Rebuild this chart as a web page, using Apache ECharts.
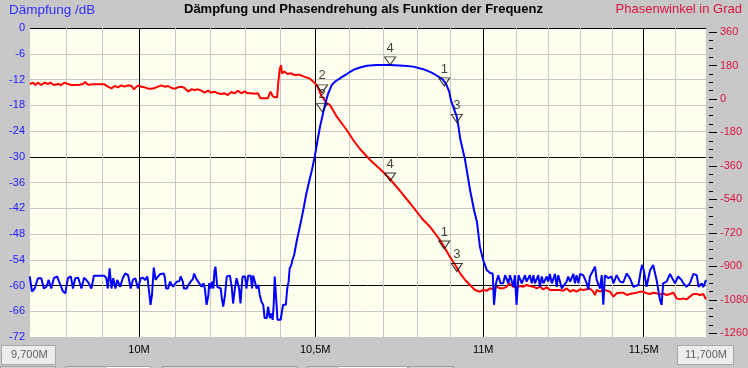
<!DOCTYPE html>
<html>
<head>
<meta charset="utf-8">
<script src="https://cdn.jsdelivr.net/npm/echarts@6/dist/echarts.min.js"></script>
<style>
  html, body { margin: 0; padding: 0; background: #c8c8c8; }
  #chart { width: 748px; height: 368px; }
</style>
</head>
<body>
<div id="chart"></div>
<script>
// Frequenz in MHz, Dämpfung in dB (blaue Kurve)
const freqBlue = [
  9.702, 9.708, 9.715, 9.724, 9.733, 9.740, 9.747, 9.753, 9.760, 9.767,
  9.776, 9.783, 9.792, 9.798, 9.805, 9.813, 9.819, 9.825, 9.833, 9.842,
  9.849, 9.855, 9.862, 9.869, 9.876, 9.892, 9.904, 9.910, 9.914, 9.919,
  9.924, 9.929, 9.935, 9.940, 9.948, 9.955, 9.962, 9.970, 9.977, 9.983,
  9.990, 9.997, 10.005, 10.011, 10.017, 10.023, 10.027, 10.032, 10.036, 10.041,
  10.046, 10.053, 10.058, 10.069, 10.072, 10.075, 10.081, 10.086, 10.091, 10.095,
  10.100, 10.105, 10.112, 10.116, 10.122, 10.125, 10.133, 10.137, 10.144, 10.150,
  10.154, 10.159, 10.165, 10.170, 10.175, 10.180, 10.184, 10.189, 10.194, 10.196,
  10.200, 10.204, 10.208, 10.211, 10.214, 10.219, 10.223, 10.229, 10.232, 10.236,
  10.241, 10.246, 10.255, 10.260, 10.264, 10.269, 10.274, 10.278, 10.281, 10.285,
  10.288, 10.291, 10.298, 10.302, 10.307, 10.314, 10.318, 10.321, 10.326, 10.331,
  10.336, 10.340, 10.345, 10.350, 10.354, 10.360, 10.364, 10.369, 10.374, 10.377,
  10.380, 10.383, 10.388, 10.391, 10.395, 10.400, 10.403, 10.407, 10.415, 10.419,
  10.423, 10.426, 10.431, 10.434, 10.439, 10.447, 10.456, 10.465, 10.473, 10.482,
  10.491, 10.499, 10.507, 10.514, 10.523, 10.532, 10.538, 10.543, 10.548, 10.558,
  10.573, 10.587, 10.602, 10.616, 10.631, 10.651, 10.680, 10.720, 10.760, 10.789,
  10.819, 10.844, 10.864, 10.879, 10.889, 10.897, 10.902, 10.920, 10.925, 10.930,
  10.945, 10.960, 10.972, 10.981, 10.990, 11.000, 11.011, 11.021, 11.029, 11.033,
  11.039, 11.046, 11.053, 11.061, 11.067, 11.077, 11.082, 11.092, 11.097, 11.102,
  11.108, 11.118, 11.128, 11.133, 11.143, 11.149, 11.154, 11.159, 11.169, 11.174,
  11.180, 11.185, 11.195, 11.200, 11.205, 11.211, 11.221, 11.226, 11.231, 11.242,
  11.257, 11.262, 11.268, 11.278, 11.283, 11.288, 11.294, 11.299, 11.309, 11.320,
  11.325, 11.330, 11.346, 11.351, 11.362, 11.367, 11.372, 11.377, 11.388, 11.398,
  11.404, 11.414, 11.425, 11.435, 11.446, 11.456, 11.467, 11.483, 11.491, 11.495,
  11.500, 11.509, 11.520, 11.530, 11.541, 11.552, 11.557, 11.562, 11.573, 11.584,
  11.600, 11.610, 11.621, 11.627, 11.637, 11.648, 11.659, 11.670, 11.676, 11.686,
  11.691, 11.700
];
const daempfung = [
  -57.9, -61.4, -60.7, -58.3, -58.3, -60.7, -60.3, -58.7, -60.7, -58.3,
  -57.9, -59.5, -61.4, -61.8, -58.3, -57.9, -60.7, -58.3, -58.2, -60.7,
  -58.2, -58.7, -59.5, -60.7, -57.7, -57.7, -57.7, -58.3, -60.7, -56.0,
  -60.7, -58.3, -60.7, -58.7, -60.3, -58.3, -57.2, -57.6, -60.7, -58.7,
  -58.3, -60.7, -58.3, -58.2, -58.7, -57.9, -60.7, -64.5, -62.2, -55.8,
  -58.7, -57.9, -57.4, -57.2, -58.2, -60.7, -60.7, -59.1, -59.1, -60.3,
  -60.7, -59.1, -59.0, -57.9, -59.1, -60.7, -60.7, -60.0, -59.1, -58.5,
  -57.2, -58.3, -59.1, -59.5, -60.3, -59.5, -60.7, -64.5, -62.2, -59.5,
  -60.7, -59.1, -60.7, -56.8, -55.6, -60.3, -60.7, -60.7, -63.0, -64.9,
  -62.2, -57.9, -57.7, -60.3, -64.2, -60.7, -58.3, -57.9, -60.7, -64.2,
  -60.7, -57.9, -57.9, -60.7, -57.7, -57.7, -60.7, -57.7, -59.1, -60.7,
  -59.9, -62.2, -63.8, -64.5, -67.6, -67.6, -64.9, -67.6, -66.5, -68.0,
  -64.5, -57.9, -58.3, -68.0, -68.0, -68.0, -68.0, -64.5, -64.5, -60.7,
  -59.1, -56.0, -55.2, -54.0, -52.9, -49.4, -46.1, -42.6, -39.1, -35.9,
  -32.9, -29.8, -26.1, -23.0, -19.8, -16.8, -15.2, -14.3, -13.3, -12.5,
  -11.7, -11.0, -10.2, -9.6, -9.2, -8.8, -8.6, -8.6, -8.8, -9.0,
  -9.6, -10.4, -11.3, -12.1, -13.3, -14.8, -16.8, -20.7, -23.0, -25.7,
  -30.8, -37.7, -42.4, -45.2, -51.0, -54.1, -56.4, -57.1, -57.2, -64.5,
  -59.5, -57.6, -59.5, -59.5, -57.6, -59.5, -57.6, -60.3, -57.6, -64.5,
  -57.6, -59.5, -57.6, -59.1, -57.6, -59.5, -57.6, -59.5, -57.6, -60.3,
  -57.9, -59.5, -57.9, -59.1, -57.3, -59.5, -57.3, -60.3, -57.6, -60.7,
  -59.1, -57.9, -59.1, -57.3, -59.5, -57.6, -59.5, -57.3, -57.6, -59.5,
  -61.0, -57.9, -55.6, -58.7, -60.7, -57.6, -64.5, -57.6, -58.3, -57.9,
  -59.5, -57.6, -59.1, -59.3, -57.2, -58.3, -60.3, -59.9, -56.4, -55.2,
  -56.4, -60.3, -56.5, -55.2, -58.7, -63.4, -64.5, -59.5, -59.1, -57.3,
  -59.5, -57.9, -58.7, -59.5, -60.3, -59.5, -57.3, -57.6, -60.3, -59.5,
  -60.4, -58.7
];

// Frequenz in MHz, Phasenwinkel in Grad (rote Kurve)
const freqRed = [
  9.702, 9.711, 9.717, 9.724, 9.733, 9.742, 9.751, 9.758, 9.767, 9.778,
  9.787, 9.796, 9.805, 9.814, 9.823, 9.837, 9.846, 9.852, 9.860, 9.873,
  9.905, 9.914, 9.924, 9.933, 9.942, 9.951, 9.960, 9.970, 9.979, 9.986,
  9.993, 10.000, 10.006, 10.016, 10.025, 10.034, 10.043, 10.053, 10.062, 10.071,
  10.081, 10.090, 10.099, 10.109, 10.118, 10.127, 10.137, 10.146, 10.155, 10.165,
  10.174, 10.183, 10.193, 10.202, 10.211, 10.221, 10.230, 10.240, 10.249, 10.259,
  10.268, 10.278, 10.287, 10.297, 10.306, 10.316, 10.325, 10.335, 10.342, 10.363,
  10.371, 10.377, 10.384, 10.390, 10.393, 10.397, 10.401, 10.404, 10.411, 10.420,
  10.430, 10.440, 10.454, 10.468, 10.483, 10.498, 10.507, 10.517, 10.534, 10.543,
  10.563, 10.592, 10.611, 10.631, 10.661, 10.690, 10.717, 10.750, 10.779, 10.819,
  10.839, 10.854, 10.869, 10.884, 10.899, 10.915, 10.930, 10.945, 10.960, 10.975,
  10.990, 11.000, 11.011, 11.021, 11.031, 11.041, 11.051, 11.061, 11.072, 11.080,
  11.084, 11.092, 11.102, 11.113, 11.123, 11.133, 11.143, 11.154, 11.164, 11.174,
  11.185, 11.195, 11.205, 11.216, 11.236, 11.247, 11.257, 11.268, 11.278, 11.288,
  11.299, 11.309, 11.320, 11.330, 11.340, 11.346, 11.351, 11.362, 11.372, 11.383,
  11.393, 11.404, 11.414, 11.425, 11.435, 11.446, 11.456, 11.467, 11.478, 11.488,
  11.499, 11.509, 11.520, 11.530, 11.541, 11.552, 11.562, 11.573, 11.584, 11.595,
  11.605, 11.616, 11.627, 11.637, 11.648, 11.659, 11.670, 11.681, 11.691, 11.700
];
const phase = [
  80.4, 87.5, 75.0, 87.5, 75.0, 87.5, 80.4, 87.5, 75.0, 80.4,
  75.0, 87.5, 80.4, 75.0, 75.0, 76.8, 80.4, 91.1, 76.8, 78.6,
  78.6, 66.0, 57.1, 69.6, 62.4, 73.2, 66.0, 73.2, 69.6, 51.7,
  66.0, 73.2, 66.0, 62.4, 55.3, 55.3, 58.9, 66.0, 73.2, 66.0,
  69.6, 58.9, 55.3, 62.4, 66.0, 58.9, 39.1, 51.7, 48.1, 51.7,
  44.5, 33.8, 44.5, 33.8, 39.1, 30.2, 26.6, 30.2, 21.2, 37.3,
  30.2, 44.5, 30.2, 40.9, 30.2, 30.2, 28.4, 30.2, 3.3, 3.3,
  39.1, 15.8, 8.7, 8.7, 83.9, 155.6, 182.5, 137.7, 146.7, 134.1,
  137.7, 128.7, 130.5, 119.8, 110.8, 87.5, 66.0, 21.2, -23.4, -32.5,
  -95.4, -167.0, -220.7, -269.1, -328.3, -376.7, -425.0, -495.0, -559.5, -651.0,
  -687.0, -722.5, -758.5, -803.1, -848.3, -892.9, -937.5, -973.5, -1000.4, -1027.3,
  -1036.4, -1027.3, -1030.9, -1018.3, -1023.7, -1009.4, -1018.3, -1018.3, -1009.4, -991.4,
  -982.5, -1009.4, -1013.0, -1005.8, -1009.4, -1000.4, -1005.8, -1009.4, -1018.3, -1009.4,
  -1023.7, -1013.0, -1027.3, -1027.3, -1027.3, -1030.9, -1018.3, -1036.2, -1027.3, -1036.2,
  -1023.7, -1027.3, -1023.7, -1018.3, -1036.2, -1054.2, -1027.3, -1036.2, -1023.7, -1030.9,
  -1036.2, -1063.1, -1045.2, -1041.6, -1041.6, -1054.2, -1048.8, -1045.2, -1041.6, -1036.2,
  -1036.2, -1045.2, -1048.8, -1041.6, -1045.2, -1050.6, -1045.2, -1054.2, -1048.8, -1041.6,
  -1072.1, -1077.5, -1072.1, -1077.5, -1063.1, -1048.8, -1048.8, -1054.2, -1048.8, -1077.5
];

// Marker 1..4
const markerNames = ['2', '4', '1', '3'];
const markerFreq = [10.52, 10.72, 10.882, 10.92];
const markerDb = [-15.1, -8.6, -13.5, -22.0];
const markerPhase = [-68, -441, -807, -928];

// Achsen
const freqMin = 9.7, freqMax = 11.7;
const freqLabels = [10, 10.5, 11, 11.5];
const freqGrid = [9.7, 9.8, 9.9, 10.1, 10.2, 10.3, 10.4, 10.6, 10.7, 10.8, 10.9,
  11.1, 11.2, 11.3, 11.4, 11.6];
const dbBold = [0, -30, -60];
const phaseLabels = [360, 180, 0, -180, -360, -540, -720, -900, -1080, -1260];
const phaseMinor = [315, 270, 225, 135, 90, 45, -45, -90, -135, -225, -270, -315,
  -405, -450, -495, -585, -630, -675, -765, -810, -855, -945, -990, -1035,
  -1125, -1170, -1215];

const font = 'Liberation Sans, Arial, sans-serif';
const ln = Math.log;

const chart = echarts.init(document.getElementById('chart'));

const xBase = {
  type: 'value', min: ln(freqMin), max: ln(freqMax), position: 'bottom',
  axisLine: { show: false }, axisTick: { show: false }
};

chart.setOption({
  animation: false,
  backgroundColor: '#c8c8c8',
  title: [
    { text: 'Dämpfung /dB', left: 9, top: 3, padding: 0,
      textStyle: { color: '#3030ff', fontSize: 13.5, fontWeight: 'normal', fontFamily: font } },
    { text: 'Dämpfung und Phasendrehung als Funktion der Frequenz', left: 184, top: 3, padding: 0,
      textStyle: { color: '#000', fontSize: 13, fontWeight: 'bold', fontFamily: font } },
    { text: 'Phasenwinkel in Grad', right: 6, top: 3, padding: 0,
      textStyle: { color: '#dc143c', fontSize: 13, fontWeight: 'normal', fontFamily: font } }
  ],
  grid: {
    left: 29, right: 42, top: 28, bottom: 31,
    containLabel: false, outerBoundsMode: 'none',
    show: true, backgroundColor: '#fffff0', borderWidth: 0
  },
  xAxis: [
    Object.assign({}, xBase, {
      axisTick: { show: false, customValues: freqGrid.map(ln) },
      axisLabel: { show: false },
      splitLine: { show: true, lineStyle: { color: '#c8c8c8', width: 1 } }
    }),
    Object.assign({}, xBase, {
      axisTick: { show: false, customValues: freqLabels.map(ln) },
      axisLabel: {
        show: true, customValues: freqLabels.map(ln), margin: 7,
        color: '#000', fontSize: 11, fontFamily: font,
        formatter: v => (Math.round(Math.exp(v) * 10) / 10).toString().replace('.', ',') + 'M'
      },
      splitLine: { show: true, lineStyle: { color: '#000', width: 1 } }
    })
  ],
  yAxis: [
    {
      type: 'value', min: -72, max: 0, interval: 6, position: 'left',
      axisLine: { show: false }, axisTick: { show: false },
      axisLabel: { color: '#2020ff', fontSize: 11, fontFamily: font, margin: 4 },
      splitLine: { show: true, lineStyle: { color: '#c8c8c8', width: 1 } }
    },
    {
      type: 'value', min: -72, max: 0, position: 'left',
      axisLine: { show: false },
      axisTick: { show: false, customValues: dbBold },
      axisLabel: { show: false },
      splitLine: { show: true, lineStyle: { color: '#000', width: 1 } }
    },
    {
      type: 'value', min: -1280, max: 381.5, position: 'right', offset: 3,
      axisLine: { show: false },
      axisTick: { show: true, inside: false, length: 8, customValues: phaseLabels,
        lineStyle: { color: '#000', width: 1 } },
      axisLabel: { customValues: phaseLabels, color: '#dc143c', fontSize: 11,
        fontFamily: font, margin: 11, formatter: v => String(v) },
      splitLine: { show: false }
    },
    {
      type: 'value', min: -1280, max: 381.5, position: 'right', offset: 3,
      axisLine: { show: false },
      axisTick: { show: true, inside: false, length: 4, customValues: phaseMinor,
        lineStyle: { color: '#000', width: 1 } },
      axisLabel: { show: false },
      splitLine: { show: false }
    }
  ],
  series: [
    {
      name: 'Phasenwinkel', type: 'line', xAxisIndex: 1, yAxisIndex: 2,
      showSymbol: false, silent: true,
      lineStyle: { color: '#ff0000', width: 2 },
      data: freqRed.map((f, i) => [ln(f), phase[i]])
    },
    {
      name: 'Dämpfung', type: 'line', xAxisIndex: 1, yAxisIndex: 0,
      showSymbol: false, silent: true,
      lineStyle: { color: '#0000ff', width: 2 },
      data: freqBlue.map((f, i) => [ln(f), daempfung[i]])
    },
    {
      name: 'Marker dB', type: 'scatter', xAxisIndex: 1, yAxisIndex: 0,
      symbol: 'triangle', symbolRotate: 180, symbolSize: [11, 8], symbolOffset: [0, -4],
      itemStyle: { color: 'rgba(255,255,240,0)', borderColor: '#000', borderWidth: 1 },
      label: { show: true, position: 'top', distance: 2, color: '#111', fontSize: 13,
        fontFamily: font, formatter: p => markerNames[p.dataIndex] },
      data: markerFreq.map((f, i) => [ln(f), markerDb[i]]),
      z: 5
    },
    {
      name: 'Marker Phase', type: 'scatter', xAxisIndex: 1, yAxisIndex: 2,
      symbol: 'triangle', symbolRotate: 180, symbolSize: [11, 8], symbolOffset: [0, -4],
      itemStyle: { color: 'rgba(255,255,240,0)', borderColor: '#000', borderWidth: 1 },
      label: { show: true, position: 'top', distance: 2, color: '#111', fontSize: 13,
        fontFamily: font, formatter: p => markerNames[p.dataIndex] },
      data: markerFreq.map((f, i) => [ln(f), markerPhase[i]]),
      z: 5
    }
  ],
  graphic: [
    { type: 'rect', left: 1, top: 345, shape: { width: 54, height: 19 },
      style: { fill: '#ededed', stroke: '#a8a8a8', lineWidth: 1 } },
    { type: 'text', left: 11, top: 349,
      style: { text: '9,700M', fill: '#606060', font: '11px ' + font } },
    { type: 'rect', left: 677, top: 345, shape: { width: 56, height: 19 },
      style: { fill: '#ededed', stroke: '#a8a8a8', lineWidth: 1 } },
    { type: 'text', left: 685, top: 349,
      style: { text: '11,700M', fill: '#606060', font: '11px ' + font } },
    { type: 'rect', left: 0, top: 366, shape: { width: 55, height: 6 },
      style: { fill: '#d4d4d4', stroke: '#a0a0a0', lineWidth: 1 } },
    { type: 'rect', left: 65, top: 366, shape: { width: 40, height: 6 },
      style: { fill: '#d4d4d4', stroke: '#a0a0a0', lineWidth: 1 } },
    { type: 'rect', left: 105, top: 366, shape: { width: 45, height: 6 },
      style: { fill: '#ffffff', stroke: '#a0a0a0', lineWidth: 1 } },
    { type: 'rect', left: 162, top: 366, shape: { width: 135, height: 6 },
      style: { fill: '#d4d4d4', stroke: '#a0a0a0', lineWidth: 1 } },
    { type: 'rect', left: 307, top: 366, shape: { width: 30, height: 6 },
      style: { fill: '#d4d4d4', stroke: '#a0a0a0', lineWidth: 1 } },
    { type: 'rect', left: 337, top: 366, shape: { width: 70, height: 6 },
      style: { fill: '#ffffff', stroke: '#a0a0a0', lineWidth: 1 } },
    { type: 'rect', left: 408, top: 366, shape: { width: 45, height: 6 },
      style: { fill: '#d4d4d4', stroke: '#a0a0a0', lineWidth: 1 } }
  ]
});
</script>
</body>
</html>
